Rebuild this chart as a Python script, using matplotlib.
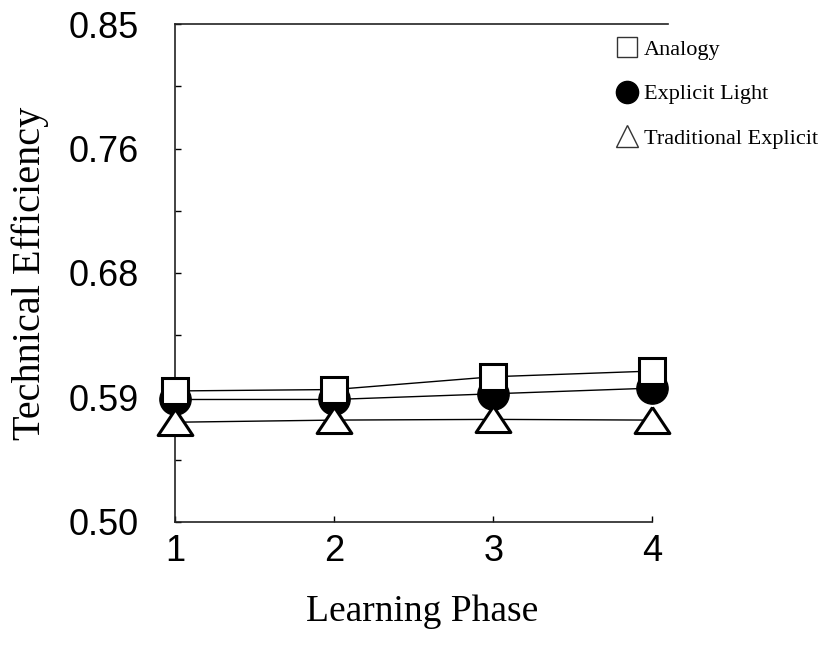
import matplotlib.pyplot as plt
from matplotlib.lines import Line2D
import numpy as np

phase = [1, 2, 3, 4]
analogy = [0.592, 0.593, 0.602, 0.606]
explicit_light = [0.586, 0.586, 0.590, 0.594]
traditional = [0.570, 0.5715, 0.572, 0.5715]

yticks = [0.50, 0.5875, 0.675, 0.7625, 0.85]
ytick_labels = ['0.50', '0.59', '0.68', '0.76', '0.85']

serif = 'Liberation Serif'
sans = 'Liberation Sans'

# wide, flat triangle like the original
tri = [(0, 0.75), (-1, -0.75), (1, -0.75), (0, 0.75)]

fig = plt.figure(figsize=(8.26, 6.53), dpi=100)
ax = fig.add_axes([0.212, 0.201, 0.597, 0.762])

ax.plot(phase, explicit_light, color='black', lw=1, marker='o', ms=22.5,
        mfc='black', mec='black', zorder=3, clip_on=False)
ax.plot(phase, analogy, color='black', lw=1, marker='s', ms=18.5,
        mfc='white', mec='black', mew=2.2, zorder=4, clip_on=False)
ax.plot(phase, traditional, color='black', lw=1, marker=tri, ms=25,
        mfc='white', mec='black', mew=2.2, zorder=5, clip_on=False)

ax.set_xlim(1, 4.1)
ax.set_ylim(0.50, 0.85)
ax.set_xticks(phase)
ax.set_xticklabels([str(p) for p in phase], fontfamily=sans, fontsize=26)
ax.set_yticks(yticks)
ax.set_yticklabels(ytick_labels, fontfamily=sans, fontsize=26)
ax.set_yticks([(a + b) / 2 for a, b in zip(yticks[:-1], yticks[1:])], minor=True)
ax.tick_params(axis='both', which='both', direction='in', length=4, width=1)
ax.tick_params(axis='y', which='major', pad=26)
ax.tick_params(axis='x', which='major', pad=9)

ax.spines['right'].set_visible(False)
ax.spines['bottom'].set_bounds(1, 4)
for s in ['left', 'bottom', 'top']:
    ax.spines[s].set_linewidth(1.2)
    ax.spines[s].set_color('#222222')

ax.set_xlabel('Learning Phase', fontfamily=serif, fontsize=27, labelpad=18)
ax.set_ylabel('Technical Efficiency', fontfamily=serif, fontsize=29, labelpad=14)

handles = [
    Line2D([], [], ls='none', marker='s', ms=14, mfc='white', mec='#333333', mew=1),
    Line2D([], [], ls='none', marker='o', ms=16, mfc='black', mec='black'),
    Line2D([], [], ls='none', marker='^', ms=16, mfc='white', mec='#333333', mew=1),
]
labels = ['Analogy', 'Explicit Light', 'Traditional Explicit']
ax.legend(handles, labels, loc='upper left', bbox_to_anchor=(0.747, 0.940),
          bbox_transform=fig.transFigure,
          frameon=False, prop={'family': serif, 'size': 16},
          handlelength=0.9, handletextpad=0.3, labelspacing=1.08, borderaxespad=0,
          borderpad=0)

fig.savefig('out.png', dpi=100)
